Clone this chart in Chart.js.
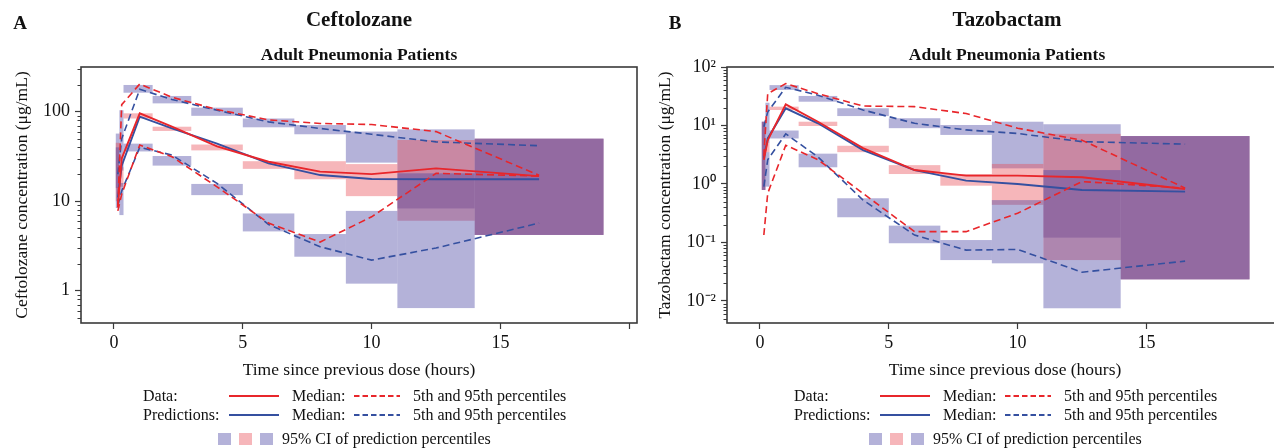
<!DOCTYPE html>
<html><head><meta charset="utf-8">
<script src="https://cdn.jsdelivr.net/npm/chart.js@4.4.1/dist/chart.umd.min.js"></script>
<style>
html,body{margin:0;padding:0;background:#fff;overflow:hidden;width:1274px;height:448px;}
#wrap{position:relative;width:1274px;height:448px;overflow:hidden;font-family:"Liberation Serif","Times New Roman",serif;color:#111;}
canvas{position:absolute;top:0;}
.t{position:absolute;white-space:nowrap;transform:translate(-50%,-50%);line-height:1;font-weight:bold;}
.l{position:absolute;white-space:nowrap;transform:translateY(-50%);line-height:1;font-size:16px;}
.sw{position:absolute;width:13px;height:12px;transform:translateY(-50%);}
svg.ln{position:absolute;overflow:visible;}
</style></head><body>
<div id="wrap">
<canvas id="cA" width="650" height="448" style="left:0px"></canvas>
<canvas id="cB" width="650" height="448" style="left:646px"></canvas>

<div class="t" style="left:20px;top:22px;font-size:19px;">A</div>
<div class="t" style="left:359px;top:19px;font-size:21px;">Ceftolozane</div>
<div class="t" style="left:359px;top:55px;font-size:17.5px;">Adult Pneumonia Patients</div>

<div class="t" style="left:675px;top:22px;font-size:19px;">B</div>
<div class="t" style="left:1007px;top:19px;font-size:21px;">Tazobactam</div>
<div class="t" style="left:1007px;top:55px;font-size:17.5px;">Adult Pneumonia Patients</div>

<div id="legA"></div>
<div id="legB"></div>
</div>
<script>
// ---------- data ----------
const binStart = [0.07, 0.21, 0.37, 1.5, 3, 5, 7, 9, 11, 14];
const binEnd   = [0.21, 0.37, 1.5, 3, 5, 7, 9, 11, 14, 19];
const times    = [0.15, 0.3, 1, 2.25, 4, 6, 8, 10, 12.5, 16.5];

// Ceftolozane (ug/mL)
const cefObsMedian  = [8.5, 30, 96, 68, 41, 27.6, 21.4, 20.1, 23.3, 19.1];
const cefObsP95     = [9, 120, 204, 145, 106, 81, 74, 72, 60, 19.5];
const cefObsP05     = [7.8, 12, 42.5, 31.4, 14.5, 5.7, 3.5, 6.7, 20.5, 19.1];
const cefPredMedian = [11, 25, 88, 65, 44, 26.5, 19.6, 17.7, 17.6, 17.6];
const cefPredP95    = [20, 50, 178, 137, 104, 77, 65, 56, 46, 41.7];
const cefPredP05    = [9, 13, 40, 32.8, 15.8, 5.5, 3.1, 2.2, 3.0, 5.7];
const cefCiP95Low   = [14, 22, 163, 124, 90, 67, 56, 27, 8.3, 4.2];
const cefCiP95High  = [57, 104, 199, 150, 111, 84, 71, 60, 63.5, 50];
const cefCiMedLow   = [10, 14.5, 84, 61, 37, 23, 17.6, 11.4, 6.05, 4.2];
const cefCiMedHigh  = [45, 24, 96, 68, 43, 28, 28, 26, 48.3, 50];
const cefCiP05Low   = [8.4, 7, 36, 25, 11.7, 4.6, 2.4, 1.2, 0.64, 4.2];
const cefCiP05High  = [40, 16, 44, 32, 15.6, 7.3, 4.3, 7.8, 20.5, 50];

// Tazobactam (ug/mL)
const tazObsMedian  = [2.6, 5.6, 23, 11.6, 4.1, 1.73, 1.39, 1.39, 1.3, 0.82];
const tazObsP95     = [3, 35, 52, 35, 21.5, 21, 16, 9, 5.6, 0.85];
const tazObsP05     = [0.134, 0.69, 4.6, 2.6, 0.69, 0.153, 0.153, 0.316, 1.1, 0.85];
const tazPredMedian = [2.8, 6, 19.7, 10.9, 3.8, 1.73, 1.14, 1.0, 0.79, 0.74];
const tazPredP95    = [9.5, 17, 45, 33, 18.4, 10.9, 8.4, 7.3, 5.3, 4.8];
const tazPredP05    = [0.9, 2.6, 7.2, 2.9, 0.53, 0.134, 0.074, 0.076, 0.031, 0.048];
const tazCiP95Low   = [0.79, 5, 40.5, 25.5, 14.5, 9, 6.9, 1.85, 0.121, 0.0234];
const tazCiP95High  = [11.6, 24.5, 49, 32, 19.7, 13.3, 10.2, 11.6, 10.5, 6.6];
const tazCiMedLow   = [0.79, 3.5, 18.4, 9.8, 3.5, 1.48, 0.935, 0.44, 0.05, 0.0234];
const tazCiMedHigh  = [11.6, 5, 21, 11.6, 4.5, 2.1, 1.48, 2.2, 7.2, 6.6];
const tazCiP05Low   = [0.79, 0.9, 6.0, 1.93, 0.27, 0.097, 0.05, 0.044, 0.0075, 0.0234];
const tazCiP05High  = [11.6, 3.5, 8.2, 3.3, 0.57, 0.194, 0.11, 0.53, 1.73, 6.6];

// ticks
const xTicks = [0, 5, 10, 15, 20];
const xTickLabels = ['0', '5', '10', '15', ''];
const cefYTicks = [1, 10, 100];
const cefYTickLabels = ['1', '10', '100'];
const tazYTicks = [0.01, 0.1, 1, 10, 100];
const tazYTickLabels = ['10\u207B\u00B2', '10\u207B\u00B9', '10\u2070', '10\u00B9', '10\u00B2'];

// ---------- styling ----------
const FONT = "'Liberation Serif', 'Times New Roman', serif";
const RED = '#e8262b';
const BLUE = '#3550a0';
const CI_BLUE = 'rgba(68,63,160,0.4)';
const CI_RED = 'rgba(232,72,82,0.4)';
const TXT = '#111';
const AXIS = '#3a3a3a';

function minorTicks(min, max) {
  const out = [];
  for (let e = -4; e <= 3; e++) {
    for (let k = 2; k <= 9; k++) {
      const v = k * Math.pow(10, e);
      if (v > min && v < max) out.push(v);
    }
  }
  return out;
}

function makePlugin(bands, minors) {
  return {
    id: 'ciBoxes',
    beforeDatasetsDraw(chart) {
      const {ctx, chartArea: a, scales: {x, y}} = chart;
      ctx.save();
      ctx.beginPath();
      ctx.rect(a.left, a.top, a.right - a.left, a.bottom - a.top);
      ctx.clip();
      for (const b of bands) {
        ctx.fillStyle = b.color;
        for (let i = 0; i < binStart.length; i++) {
          const x0 = x.getPixelForValue(binStart[i]);
          const x1 = x.getPixelForValue(binEnd[i]);
          const y0 = y.getPixelForValue(b.hi[i]);
          const y1 = y.getPixelForValue(b.lo[i]);
          ctx.fillRect(x0, y0, x1 - x0, y1 - y0);
        }
      }
      ctx.restore();
    },
    afterDraw(chart) {
      const {ctx, chartArea: a, scales: {y}} = chart;
      ctx.save();
      ctx.strokeStyle = AXIS;
      ctx.lineWidth = 1;
      for (const v of minors) {
        const py = Math.round(y.getPixelForValue(v)) + 0.5;
        ctx.beginPath();
        ctx.moveTo(a.left - 3.5, py);
        ctx.lineTo(a.left, py);
        ctx.stroke();
      }
      ctx.lineWidth = 1.6;
      ctx.strokeRect(a.left, a.top, a.right - a.left, a.bottom - a.top);
      ctx.restore();
    }
  };
}

function lineDs(data, color, dashed) {
  return {
    data: times.map((t, i) => ({x: t, y: data[i]})),
    borderColor: color,
    borderWidth: dashed ? 1.6 : 1.9,
    borderDash: dashed ? [7, 4] : [],
    pointRadius: 0,
    fill: false,
    tension: 0
  };
}

function makeChart(id, cfg) {
  const bands = [
    {lo: cfg.ciP95Low, hi: cfg.ciP95High, color: CI_BLUE},
    {lo: cfg.ciMedLow, hi: cfg.ciMedHigh, color: CI_RED},
    {lo: cfg.ciP05Low, hi: cfg.ciP05High, color: CI_BLUE}
  ];
  return new Chart(document.getElementById(id), {
    type: 'line',
    data: {
      datasets: [
        lineDs(cfg.obsMedian, RED, false),
        lineDs(cfg.obsP95, RED, true),
        lineDs(cfg.obsP05, RED, true),
        lineDs(cfg.predMedian, BLUE, false),
        lineDs(cfg.predP95, BLUE, true),
        lineDs(cfg.predP05, BLUE, true)
      ]
    },
    options: {
      responsive: false,
      animation: false,
      events: [],
      layout: {padding: {left: 0, top: 67, right: 13, bottom: 65}},
      plugins: {legend: {display: false}, tooltip: {enabled: false}, title: {display: false}},
      scales: {
        x: {
          type: 'linear', min: -1.28, max: 20.3,
          afterBuildTicks: s => { s.ticks = xTicks.map(v => ({value: v})); },
          afterFit: s => { s.height = 60; },
          ticks: {autoSkip: false, maxRotation: 0, padding: 3, color: TXT,
                  font: {family: FONT, size: 18},
                  callback: (v, i) => xTickLabels[i]},
          grid: {display: true, drawOnChartArea: false, drawTicks: true, tickLength: 6, tickWidth: 1.2, tickColor: AXIS},
          border: {display: false},
          title: {display: true, text: 'Time since previous dose (hours)', color: TXT,
                  font: {family: FONT, size: 17.5}, padding: {top: 0, bottom: 2.5}}
        },
        y: {
          type: 'logarithmic', min: cfg.yMin, max: cfg.yMax,
          afterBuildTicks: s => { s.ticks = cfg.yTicks.map(v => ({value: v})); },
          afterFit: s => { s.width = 81; },
          ticks: {autoSkip: false, padding: 5, color: TXT,
                  font: {family: FONT, size: 18},
                  callback: (v, i) => cfg.yTickLabels[i]},
          grid: {display: true, drawOnChartArea: false, drawTicks: true, tickLength: 6, tickWidth: 1.2, tickColor: AXIS},
          border: {display: false},
          title: {display: true, text: cfg.yTitle, color: TXT,
                  font: {family: FONT, size: 17.5}, padding: {top: cfg.yTitlePad, bottom: 0}}
        }
      }
    },
    plugins: [makePlugin(bands, minorTicks(cfg.yMin, cfg.yMax))]
  });
}

makeChart('cA', {
  obsMedian: cefObsMedian, obsP95: cefObsP95, obsP05: cefObsP05,
  predMedian: cefPredMedian, predP95: cefPredP95, predP05: cefPredP05,
  ciP95Low: cefCiP95Low, ciP95High: cefCiP95High,
  ciMedLow: cefCiMedLow, ciMedHigh: cefCiMedHigh,
  ciP05Low: cefCiP05Low, ciP05High: cefCiP05High,
  yMin: 0.436, yMax: 316, yTicks: cefYTicks, yTickLabels: cefYTickLabels,
  yTitle: 'Ceftolozane concentration (\u03BCg/mL)', yTitlePad: 11.5
});
makeChart('cB', {
  obsMedian: tazObsMedian, obsP95: tazObsP95, obsP05: tazObsP05,
  predMedian: tazPredMedian, predP95: tazPredP95, predP05: tazPredP05,
  ciP95Low: tazCiP95Low, ciP95High: tazCiP95High,
  ciMedLow: tazCiMedLow, ciMedHigh: tazCiMedHigh,
  ciP05Low: tazCiP05Low, ciP05High: tazCiP05High,
  yMin: 0.0042, yMax: 100, yTicks: tazYTicks, yTickLabels: tazYTickLabels,
  yTitle: 'Tazobactam concentration (\u03BCg/mL)', yTitlePad: 8.5
});

// ---------- legends (HTML) ----------
function buildLegend(el, dx) {
  const parts = [];
  const txt = (x, y, s) => parts.push(`<div class="l" style="left:${x + dx}px;top:${y}px;">${s}</div>`);
  const ln = (x1, x2, y, color, dashed) => parts.push(
    `<svg class="ln" style="left:${x1 + dx}px;top:${y - 2}px;" width="${x2 - x1}" height="4"><line x1="0" y1="2" x2="${x2 - x1}" y2="2" stroke="${color}" stroke-width="2" ${dashed ? 'stroke-dasharray="5.5,3"' : ''}/></svg>`);
  const sq = (x, y, color) => parts.push(`<div class="sw" style="left:${x + dx}px;top:${y}px;background:${color};"></div>`);
  txt(143, 396, 'Data:');
  ln(229, 279, 396, RED, false);
  txt(292, 396, 'Median:');
  ln(354, 400, 396, RED, true);
  txt(413, 396, '5th and 95th percentiles');
  txt(143, 415, 'Predictions:');
  ln(229, 279, 415, BLUE, false);
  txt(292, 415, 'Median:');
  ln(354, 400, 415, BLUE, true);
  txt(413, 415, '5th and 95th percentiles');
  sq(218, 439, '#b4b2d9');
  sq(239, 439, '#f6b6ba');
  sq(260, 439, '#b4b2d9');
  txt(282, 439, '95% CI of prediction percentiles');
  el.innerHTML = parts.join('');
}
buildLegend(document.getElementById('legA'), 0);
buildLegend(document.getElementById('legB'), 651);
</script>
</body></html>
